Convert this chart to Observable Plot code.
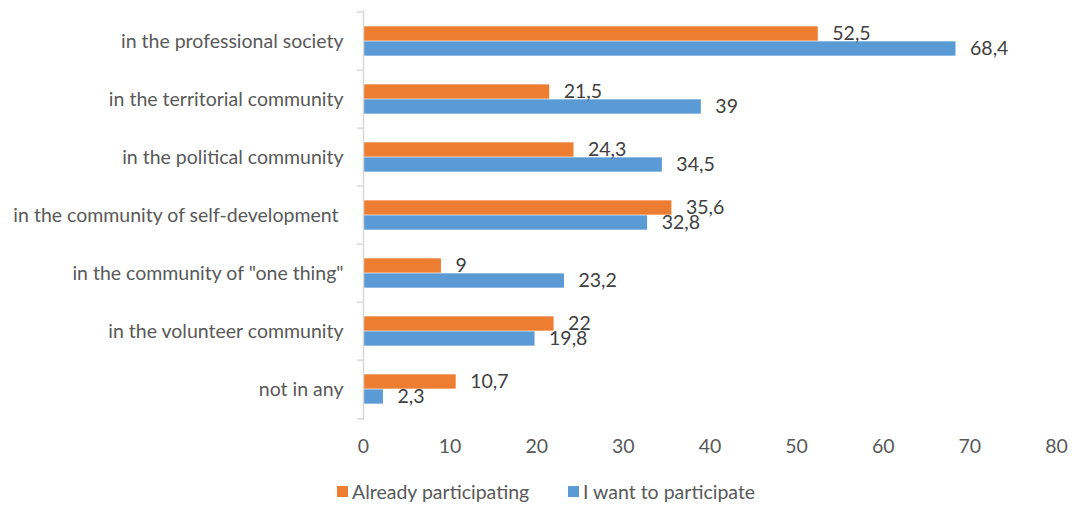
<!DOCTYPE html>
<html>
<head>
<meta charset="utf-8">
<script src="https://cdn.jsdelivr.net/npm/d3@7"></script>
<script src="https://cdn.jsdelivr.net/npm/@observablehq/plot@0.6"></script>
<style>
  body { margin: 0; background: #fff; font-family: Lato, "Open Sans", sans-serif; }
  #legend { position: relative; height: 36px; font-size: 19.5px; color: #595959; }
  .item { display: flex; align-items: center; position: absolute; top: 10px; }
  .sw { width: 11px; height: 11px; margin-right: 4px; }
</style>
</head>
<body>
<div id="chart"></div>
<div id="legend"></div>
<script>
const categories = [
  "in the professional society",
  "in the territorial community",
  "in the political community",
  "in the community of self-development\u00a0",
  "in the community of \"one thing\"",
  "in the volunteer community",
  "not in any"
];
const seriesNames = ["Already participating", "I want to participate"];
const already = [52.5, 21.5, 24.3, 35.6, 9, 22, 10.7];
const want = [68.4, 39, 34.5, 32.8, 23.2, 19.8, 2.3];
const xTicks = [0, 10, 20, 30, 40, 50, 60, 70, 80];
const colors = ["#ED7D31", "#5B9BD5"];

const data = [];
categories.forEach((c, i) => {
  data.push({category: c, series: seriesNames[0], value: already[i]});
  data.push({category: c, series: seriesNames[1], value: want[i]});
});
const fmt = v => String(v).replace(".", ",");

const W = 1078, H = 470, mTop = 9.7, mBottom = 49.7;
const bw = (H - mTop - mBottom) / categories.length;
const barH = 15;
const last = categories[categories.length - 1];
const FS = 19.5;

const chart = Plot.plot({
  width: W,
  height: H,
  marginLeft: 363,
  marginRight: 22,
  marginTop: mTop,
  marginBottom: mBottom,
  style: {fontFamily: "Lato, 'Open Sans', sans-serif", fontSize: FS + "px", color: "#595959", background: "#fff"},
  x: {domain: [0, 80], ticks: xTicks, tickSize: 0, tickPadding: 18, label: null, tickFormat: d => String(d)},
  y: {domain: categories, padding: 0, tickSize: 0, tickPadding: 20, label: null},
  color: {domain: seriesNames, range: colors},
  marks: [
    Plot.barX(data.filter(d => d.series === seriesNames[0]), {
      x: "value", y: "category", fill: "series",
      insetTop: bw / 2 - barH, insetBottom: bw / 2
    }),
    Plot.barX(data.filter(d => d.series === seriesNames[1]), {
      x: "value", y: "category", fill: "series",
      insetTop: bw / 2, insetBottom: bw / 2 - barH
    }),
    Plot.ruleX([0], {stroke: "#d9d9d9", strokeWidth: 1.5}),
    Plot.ruleY(categories, {y: d => d, x1: -0.7, x2: 0, dy: -bw / 2, stroke: "#d9d9d9", strokeWidth: 1.5}),
    Plot.ruleY([last], {y: d => d, x1: -0.7, x2: 0, dy: bw / 2, stroke: "#d9d9d9", strokeWidth: 1.5}),
    Plot.text(data.filter(d => d.series === seriesNames[0]), {
      x: "value", y: "category", text: d => fmt(d.value), textAnchor: "start",
      dx: 14, dy: -barH / 2, fill: "#404040", fontSize: FS
    }),
    Plot.text(data.filter(d => d.series === seriesNames[1]), {
      x: "value", y: "category", text: d => fmt(d.value), textAnchor: "start",
      dx: 14, dy: barH / 2, fill: "#404040", fontSize: FS
    })
  ]
});
document.getElementById("chart").appendChild(chart);

const legend = document.getElementById("legend");
const lx = [337, 568];
seriesNames.forEach((s, i) => {
  const it = document.createElement("div");
  it.className = "item";
  it.style.left = lx[i] + "px";
  it.innerHTML = `<span class="sw" style="background:${colors[i]}"></span><span>${s}</span>`;
  legend.appendChild(it);
});
</script>
</body>
</html>
